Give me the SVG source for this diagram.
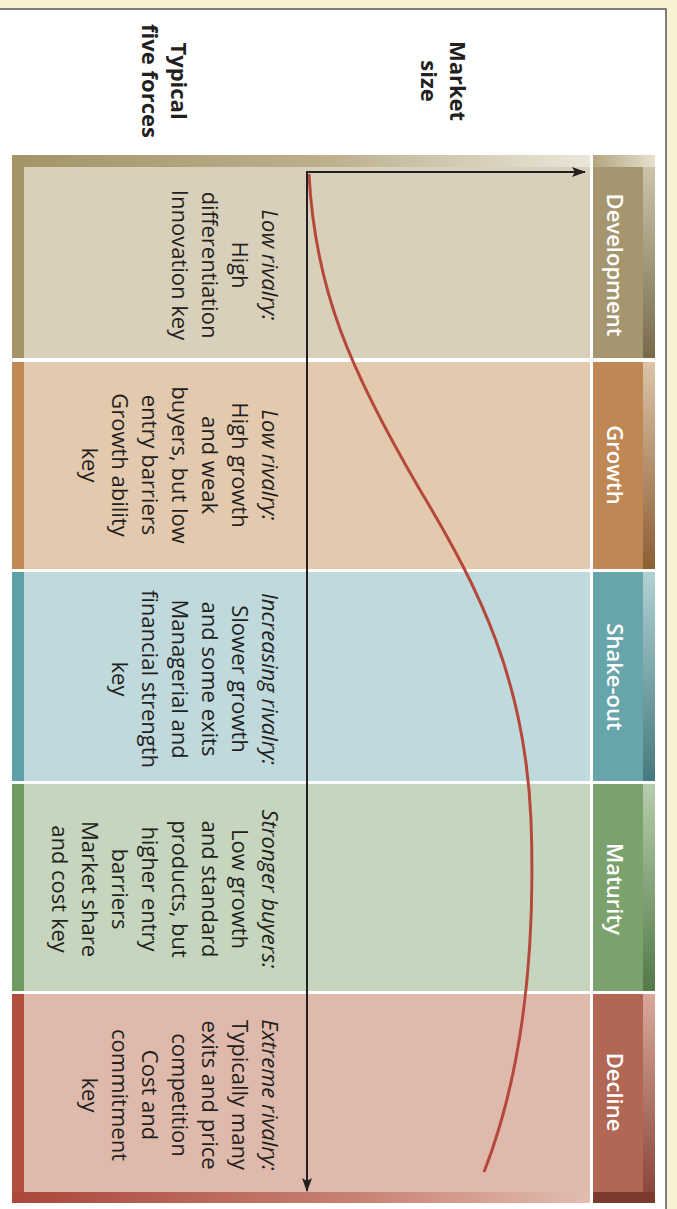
<svg xmlns="http://www.w3.org/2000/svg" width="677" height="1209" viewBox="0 0 677 1209">
<style>
.body{font-family:"Open Sans","Liberation Sans",sans-serif;font-size:22px;fill:#231f20;text-anchor:middle}
.it{font-style:italic}
.hdr{font-family:"Open Sans","Liberation Sans",sans-serif;font-size:22px;font-weight:600;fill:#ffffff;text-anchor:middle}
.lab{font-family:"Open Sans","Liberation Sans",sans-serif;font-size:22px;font-weight:700;fill:#231f20;text-anchor:middle}
.axis{stroke:#231f20;stroke-width:2;fill:none}
</style>
<defs>
<marker id="ah" viewBox="0 0 14 10" refX="13" refY="5" markerWidth="14" markerHeight="10" markerUnits="userSpaceOnUse" orient="auto"><path d="M0,0 L14,5 L0,10 L3,5 Z" fill="#231f20"/></marker>
<linearGradient id="devTop" x1="0" y1="0" x2="1" y2="0"><stop offset="0" stop-color="#a39568"/><stop offset="0.55" stop-color="#bcb08e"/><stop offset="1" stop-color="#ebe6da"/></linearGradient>
<linearGradient id="decBot" x1="0" y1="0" x2="1" y2="0"><stop offset="0" stop-color="#a9473a"/><stop offset="0.6" stop-color="#c88273"/><stop offset="1" stop-color="#e2bdb1"/></linearGradient>
<linearGradient id="devHTop" x1="0" y1="0" x2="1" y2="0"><stop offset="0" stop-color="#b3a57f"/><stop offset="1" stop-color="#e6e0d0"/></linearGradient>
<linearGradient id="sDev" x1="0" y1="0" x2="0" y2="1"><stop offset="0" stop-color="#d2c9b1"/><stop offset="1" stop-color="#776b4a"/></linearGradient>
<linearGradient id="sGro" x1="0" y1="0" x2="0" y2="1"><stop offset="0" stop-color="#dcc3a8"/><stop offset="1" stop-color="#8c5e34"/></linearGradient>
<linearGradient id="sSha" x1="0" y1="0" x2="0" y2="1"><stop offset="0" stop-color="#b0d1d4"/><stop offset="1" stop-color="#467a7e"/></linearGradient>
<linearGradient id="sMat" x1="0" y1="0" x2="0" y2="1"><stop offset="0" stop-color="#b6cdab"/><stop offset="1" stop-color="#537a48"/></linearGradient>
<linearGradient id="sDec" x1="0" y1="0" x2="0" y2="1"><stop offset="0" stop-color="#d9a99b"/><stop offset="1" stop-color="#864335"/></linearGradient>
</defs>

<rect x="0" y="0" width="677" height="1209" fill="#faf0d3"/>
<rect x="0" y="9" width="666" height="1200" fill="#ffffff"/>
<path d="M0,9 L666,9 L666,1209" fill="none" stroke="#555555" stroke-width="1.5"/>

<g id="label-market-size">
<text class="lab" transform="translate(450,81) rotate(90)"><tspan x="0" y="0">Market</tspan><tspan x="0" dy="29">size</tspan></text>
</g>
<g id="label-five-forces">
<text class="lab" transform="translate(171,81) rotate(90)"><tspan x="0" y="0">Typical</tspan><tspan x="0" dy="29">five forces</tspan></text>
</g>

<g id="stage-development">
<rect x="12" y="155" width="578" height="203" fill="#a39568"/>
<rect x="12" y="155" width="578" height="12" fill="url(#devTop)"/>
<rect x="24" y="167" width="566" height="191" fill="#d9d0bb"/>
<rect x="593" y="155" width="62" height="203" fill="url(#sDev)"/>
<rect x="593" y="155" width="62" height="12" fill="url(#devHTop)"/>
<rect x="593" y="167" width="50" height="191" fill="#a59670"/>
<text class="hdr" transform="translate(607,265) rotate(90)">Development</text>
<text class="body" transform="translate(262,265) rotate(90)"><tspan x="0" y="0" class="it">Low rivalry:</tspan><tspan x="0" dy="30">High</tspan><tspan x="0" dy="30">differentiation</tspan><tspan x="0" dy="30">Innovation key</tspan></text>
</g>

<g id="stage-growth">
<rect x="12" y="362" width="12" height="207" fill="#c08a55"/>
<rect x="24" y="362" width="566" height="207" fill="#e3c9ae"/>
<rect x="593" y="362" width="62" height="207" fill="url(#sGro)"/>
<rect x="593" y="362" width="50" height="207" fill="#bf8753"/>
<text class="hdr" transform="translate(607,465) rotate(90)">Growth</text>
<text class="body" transform="translate(262,465) rotate(90)"><tspan x="0" y="0" class="it">Low rivalry:</tspan><tspan x="0" dy="30">High growth</tspan><tspan x="0" dy="30">and weak</tspan><tspan x="0" dy="30">buyers, but low</tspan><tspan x="0" dy="30">entry barriers</tspan><tspan x="0" dy="30">Growth ability</tspan><tspan x="0" dy="30">key</tspan></text>
</g>

<g id="stage-shakeout">
<rect x="12" y="572" width="12" height="209" fill="#5fa0a6"/>
<rect x="24" y="572" width="566" height="209" fill="#c0d9dc"/>
<rect x="593" y="572" width="62" height="209" fill="url(#sSha)"/>
<rect x="593" y="572" width="50" height="209" fill="#67a5ab"/>
<text class="hdr" transform="translate(607,677) rotate(90)">Shake-out</text>
<text class="body" transform="translate(262,679) rotate(90)"><tspan x="0" y="0" class="it">Increasing rivalry:</tspan><tspan x="0" dy="30">Slower growth</tspan><tspan x="0" dy="30">and some exits</tspan><tspan x="0" dy="30">Managerial and</tspan><tspan x="0" dy="30">financial strength</tspan><tspan x="0" dy="30">key</tspan></text>
</g>

<g id="stage-maturity">
<rect x="12" y="784" width="12" height="207" fill="#6f9b61"/>
<rect x="24" y="784" width="566" height="207" fill="#c6d5bd"/>
<rect x="593" y="784" width="62" height="207" fill="url(#sMat)"/>
<rect x="593" y="784" width="50" height="207" fill="#7ba16c"/>
<text class="hdr" transform="translate(607,889) rotate(90)">Maturity</text>
<text class="body" transform="translate(262,889) rotate(90)"><tspan x="0" y="0" class="it">Stronger buyers:</tspan><tspan x="0" dy="30">Low growth</tspan><tspan x="0" dy="30">and standard</tspan><tspan x="0" dy="30">products, but</tspan><tspan x="0" dy="30">higher entry</tspan><tspan x="0" dy="30">barriers</tspan><tspan x="0" dy="30">Market share</tspan><tspan x="0" dy="30">and cost key</tspan></text>
</g>

<g id="stage-decline">
<rect x="12" y="994" width="578" height="209" fill="#b1503f"/>
<rect x="24" y="994" width="566" height="198" fill="#dfbaac"/>
<rect x="12" y="1192" width="578" height="11" fill="url(#decBot)"/>
<rect x="593" y="994" width="62" height="209" fill="url(#sDec)"/>
<rect x="593" y="1192" width="62" height="11" fill="#7a3a2e"/>
<rect x="593" y="994" width="50" height="198" fill="#b26754"/>
<text class="hdr" transform="translate(607,1092) rotate(90)">Decline</text>
<text class="body" transform="translate(262,1095) rotate(90)"><tspan x="0" y="0" class="it">Extreme rivalry:</tspan><tspan x="0" dy="30">Typically many</tspan><tspan x="0" dy="30">exits and price</tspan><tspan x="0" dy="30">competition</tspan><tspan x="0" dy="30">Cost and</tspan><tspan x="0" dy="30">commitment</tspan><tspan x="0" dy="30">key</tspan></text>
</g>

<g id="connectors">
<path d="M309,174 C315,290 350,370 420,490 C480,590 525,680 531,820 C536,960 520,1080 484,1172" fill="none" stroke="#b5483b" stroke-width="3"/>
<line class="axis" x1="307" y1="172" x2="585" y2="172" marker-end="url(#ah)"/>
<line class="axis" x1="307" y1="171" x2="307" y2="1191" marker-end="url(#ah)"/>
</g>
</svg>
